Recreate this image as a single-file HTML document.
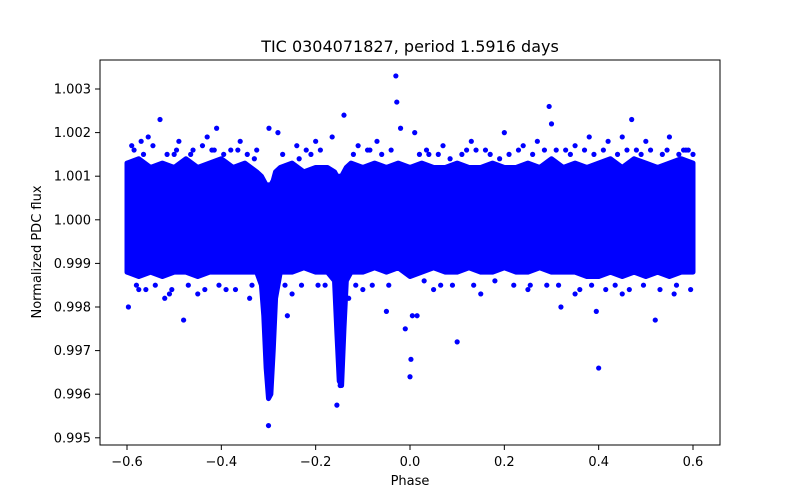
<!DOCTYPE html>
<html><head><meta charset="utf-8"><style>
body{margin:0;background:#fff;font-family:"DejaVu Sans","Liberation Sans",sans-serif}
svg text{font-family:"DejaVu Sans","Liberation Sans",sans-serif}
</style></head><body>
<svg id="chart" width="800" height="500" xmlns="http://www.w3.org/2000/svg">
<rect width="800" height="500" fill="#fff"/>
<g id="plot"></g>
<rect x="100" y="60" width="620" height="385" fill="none" stroke="#000" stroke-width="1"/>
<g id="axes"></g>
<text x="410" y="52" text-anchor="middle" font-size="16">TIC 0304071827, period 1.5916 days</text>
<text x="410" y="485" text-anchor="middle" font-size="13">Phase</text>
<text x="0" y="0" transform="translate(41,252) rotate(-90)" text-anchor="middle" font-size="13">Normalized PDC flux</text>
</svg>
<script>
const xTicks=[-0.6,-0.4,-0.2,0.0,0.2,0.4,0.6];
const xTickLabels=["−0.6","−0.4","−0.2","0.0","0.2","0.4","0.6"];
const yTicks=[0.995,0.996,0.997,0.998,0.999,1.000,1.001,1.002,1.003];
const yTickLabels=["0.995","0.996","0.997","0.998","0.999","1.000","1.001","1.002","1.003"];
// dense band envelope
const bandPhase=[-0.6,-0.575,-0.55,-0.525,-0.5,-0.475,-0.45,-0.425,-0.4,-0.375,-0.35,-0.325,-0.315,-0.31,-0.305,-0.30,-0.295,-0.29,-0.285,-0.275,-0.25,-0.225,-0.2,-0.175,-0.16,-0.155,-0.15,-0.145,-0.14,-0.135,-0.125,-0.1,-0.075,-0.05,-0.025,0,0.025,0.05,0.075,0.1,0.125,0.15,0.175,0.2,0.225,0.25,0.275,0.3,0.325,0.35,0.375,0.4,0.425,0.45,0.475,0.5,0.525,0.55,0.575,0.6];
const bandHigh=[1.0013,1.0014,1.0012,1.0013,1.0012,1.0014,1.0012,1.0013,1.0014,1.0012,1.0013,1.0011,1.0010,1.0009,1.0008,1.0008,1.0008,1.0009,1.0011,1.0012,1.0013,1.0011,1.0012,1.0012,1.0011,1.0010,1.0010,1.0010,1.0011,1.0012,1.0013,1.0012,1.0013,1.0012,1.0013,1.0012,1.0013,1.0012,1.0012,1.0013,1.0012,1.0012,1.0013,1.0012,1.0012,1.0013,1.0012,1.0014,1.0012,1.0013,1.0012,1.0013,1.0014,1.0012,1.0014,1.0013,1.0012,1.0013,1.0014,1.0013];
const bandLow=[0.9988,0.9987,0.9988,0.9987,0.9988,0.9988,0.9987,0.9988,0.9988,0.9988,0.9988,0.9988,0.9985,0.9978,0.9966,0.9959,0.9960,0.9970,0.9982,0.9988,0.9988,0.9989,0.9988,0.9988,0.9986,0.9974,0.9963,0.9962,0.9975,0.9986,0.9988,0.9988,0.9989,0.9988,0.9989,0.9987,0.9988,0.9989,0.9988,0.9988,0.9989,0.9988,0.9988,0.9989,0.9988,0.9988,0.9989,0.9988,0.9988,0.9988,0.9987,0.9987,0.9988,0.9987,0.9988,0.9987,0.9988,0.9987,0.9988,0.9988];
// scattered outlier points
const outPhase=[-0.597,-0.59,-0.57,-0.555,-0.53,-0.52,-0.49,-0.48,-0.46,-0.43,-0.41,-0.38,-0.36,-0.34,-0.325,-0.30,-0.299,-0.298,-0.28,-0.26,-0.24,-0.22,-0.2,-0.18,-0.165,-0.155,-0.148,-0.14,-0.13,-0.11,-0.09,-0.07,-0.05,-0.03,-0.028,-0.02,-0.01,0.0,0.002,0.005,0.01,0.015,0.04,0.07,0.1,0.13,0.16,0.2,0.24,0.27,0.295,0.3,0.32,0.35,0.38,0.395,0.4,0.42,0.45,0.47,0.5,0.52,0.55,0.58,0.6,-0.575,-0.51,-0.45,-0.39,-0.25,-0.1,0.05,0.15,0.25,0.35,0.45,0.56,-0.5,-0.42,0.12,0.33,0.48,0.59,
-0.585,-0.565,-0.545,-0.515,-0.495,-0.465,-0.44,-0.415,-0.395,-0.365,-0.345,-0.33,-0.27,-0.235,-0.21,-0.19,-0.12,-0.085,-0.06,-0.04,0.02,0.035,0.06,0.085,0.11,0.14,0.17,0.19,0.21,0.23,0.26,0.285,0.31,0.34,0.37,0.39,0.41,0.44,0.46,0.49,0.51,0.535,0.545,0.57,0.585,
-0.58,-0.56,-0.54,-0.505,-0.47,-0.435,-0.405,-0.37,-0.335,-0.265,-0.23,-0.195,-0.115,-0.08,-0.045,0.03,0.065,0.09,0.135,0.18,0.22,0.255,0.29,0.315,0.36,0.385,0.415,0.435,0.465,0.495,0.53,0.565,0.595];
const outFlux=[0.9980,1.0017,1.0018,1.0019,1.0023,0.9982,1.0018,0.9977,1.0016,1.0019,1.0021,1.0016,1.0018,0.9982,1.0016,0.99528,1.0021,0.9966,1.0020,0.9978,1.0017,1.0016,1.0018,0.9985,1.0019,0.99575,0.9962,1.0024,0.9982,1.0017,1.0016,1.0018,0.9979,1.0033,1.0027,1.0021,0.9975,0.9964,0.9968,0.9978,1.0020,0.9978,1.0015,1.0017,0.9972,1.0018,1.0016,1.0020,1.0017,1.0018,1.0026,1.0022,0.9980,1.0017,1.0019,0.9979,0.9966,1.0018,1.0019,1.0023,1.0018,0.9977,1.0019,1.0016,1.0015,0.9984,0.9983,0.9983,0.9984,0.9983,0.9984,0.9984,0.9983,0.9984,0.9983,0.9983,0.9983,1.0015,1.0016,1.0016,1.0016,1.0016,1.0016,
1.0016,1.0015,1.0017,1.0015,1.0016,1.0015,1.0017,1.0016,1.0015,1.0016,1.0015,1.0014,1.0015,1.0014,1.0015,1.0016,1.0015,1.0016,1.0015,1.0016,1.0015,1.0016,1.0015,1.0014,1.0015,1.0016,1.0015,1.0014,1.0015,1.0016,1.0015,1.0016,1.0016,1.0015,1.0016,1.0015,1.0016,1.0015,1.0016,1.0015,1.0016,1.0015,1.0016,1.0015,1.0016,
0.9985,0.9984,0.9985,0.9984,0.9985,0.9984,0.9985,0.9984,0.9985,0.9985,0.9985,0.9985,0.9985,0.9985,0.9985,0.9986,0.9985,0.9985,0.9985,0.9986,0.9985,0.9985,0.9985,0.9985,0.9984,0.9985,0.9984,0.9985,0.9984,0.9985,0.9984,0.9985,0.9984];
const X=p=>127+(p+0.6)/1.2*566;
const Y=f=>89+(1.003-f)/0.001*43.6;
const NS="http://www.w3.org/2000/svg";
const plot=document.getElementById('plot'), axes=document.getElementById('axes');
let pts=[];
for(let i=0;i<bandPhase.length;i++)pts.push(X(bandPhase[i])+","+Y(bandHigh[i]));
for(let i=bandPhase.length-1;i>=0;i--)pts.push(X(bandPhase[i])+","+Y(bandLow[i]));
const band=document.createElementNS(NS,'polygon');
band.setAttribute('points',pts.join(' '));
band.setAttribute('fill','#0000ff');band.setAttribute('stroke','#0000ff');
band.setAttribute('stroke-width','5');band.setAttribute('stroke-linejoin','round');


plot.appendChild(band);
for(let i=0;i<outPhase.length;i++){
 const c=document.createElementNS(NS,'circle');
 c.setAttribute('cx',X(outPhase[i]));c.setAttribute('cy',Y(outFlux[i]));c.setAttribute('r','2.6');c.setAttribute('fill','#0000ff');
 
 
 plot.appendChild(c);
}
xTicks.forEach((t,i)=>{
 const l=document.createElementNS(NS,'line');
 l.setAttribute('x1',X(t));l.setAttribute('x2',X(t));l.setAttribute('y1',445);l.setAttribute('y2',450);l.setAttribute('stroke','#000');
 
 
 axes.appendChild(l);
 const tx=document.createElementNS(NS,'text');
 tx.setAttribute('x',X(t));tx.setAttribute('y',466);tx.setAttribute('text-anchor','middle');tx.setAttribute('font-size','13');
 tx.textContent=xTickLabels[i];
 
 
 axes.appendChild(tx);
});
yTicks.forEach((t,i)=>{
 const l=document.createElementNS(NS,'line');
 l.setAttribute('x1',95);l.setAttribute('x2',100);l.setAttribute('y1',Y(t));l.setAttribute('y2',Y(t));l.setAttribute('stroke','#000');
 
 
 axes.appendChild(l);
 const tx=document.createElementNS(NS,'text');
 tx.setAttribute('x',91);tx.setAttribute('y',Y(t)+4.5);tx.setAttribute('text-anchor','end');tx.setAttribute('font-size','13');
 tx.textContent=yTickLabels[i];
 
 
 axes.appendChild(tx);
});
</script>
</body></html>
